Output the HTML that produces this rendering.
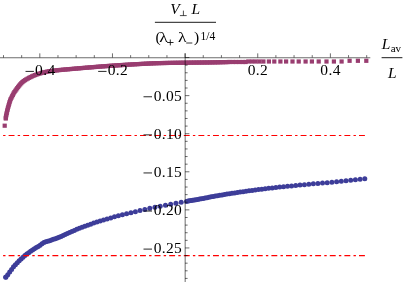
<!DOCTYPE html>
<html><head><meta charset="utf-8"><title>plot</title>
<style>html,body{margin:0;padding:0;background:#fff;}svg{display:block;}text{font-family:"Liberation Serif",serif;fill:#000;}.i{font-style:italic;}</style></head><body>
<svg width="405" height="282" viewBox="0 0 405 282">
<rect x="0" y="0" width="405" height="282" fill="#fff"/>
<g fill="#993d70">
<rect x="2.60" y="123.60" width="4.2" height="4.2"/>
<rect x="3.70" y="116.40" width="4.2" height="4.2"/>
<rect x="3.69" y="115.57" width="4.2" height="4.2"/>
<rect x="3.97" y="114.00" width="4.2" height="4.2"/>
<rect x="4.29" y="112.43" width="4.2" height="4.2"/>
<rect x="4.62" y="110.86" width="4.2" height="4.2"/>
<rect x="4.98" y="109.30" width="4.2" height="4.2"/>
<rect x="5.35" y="107.75" width="4.2" height="4.2"/>
<rect x="5.76" y="106.20" width="4.2" height="4.2"/>
<rect x="6.18" y="104.66" width="4.2" height="4.2"/>
<rect x="6.62" y="103.12" width="4.2" height="4.2"/>
<rect x="7.06" y="101.58" width="4.2" height="4.2"/>
<rect x="7.50" y="100.03" width="4.2" height="4.2"/>
<rect x="7.98" y="98.51" width="4.2" height="4.2"/>
<rect x="8.57" y="97.04" width="4.2" height="4.2"/>
<rect x="9.30" y="95.61" width="4.2" height="4.2"/>
<rect x="10.05" y="94.19" width="4.2" height="4.2"/>
<rect x="10.76" y="92.75" width="4.2" height="4.2"/>
<rect x="11.49" y="91.32" width="4.2" height="4.2"/>
<rect x="12.31" y="89.96" width="4.2" height="4.2"/>
<rect x="13.24" y="88.66" width="4.2" height="4.2"/>
<rect x="14.19" y="87.37" width="4.2" height="4.2"/>
<rect x="15.12" y="86.06" width="4.2" height="4.2"/>
<rect x="16.06" y="84.76" width="4.2" height="4.2"/>
<rect x="17.05" y="83.52" width="4.2" height="4.2"/>
<rect x="18.10" y="82.29" width="4.2" height="4.2"/>
<rect x="19.19" y="81.10" width="4.2" height="4.2"/>
<rect x="20.33" y="79.98" width="4.2" height="4.2"/>
<rect x="21.55" y="78.99" width="4.2" height="4.2"/>
<rect x="22.87" y="78.09" width="4.2" height="4.2"/>
<rect x="24.25" y="77.25" width="4.2" height="4.2"/>
<rect x="25.65" y="76.45" width="4.2" height="4.2"/>
<rect x="27.06" y="75.70" width="4.2" height="4.2"/>
<rect x="28.48" y="74.96" width="4.2" height="4.2"/>
<rect x="29.93" y="74.27" width="4.2" height="4.2"/>
<rect x="31.39" y="73.61" width="4.2" height="4.2"/>
<rect x="32.87" y="73.00" width="4.2" height="4.2"/>
<rect x="34.36" y="72.45" width="4.2" height="4.2"/>
<rect x="35.88" y="71.93" width="4.2" height="4.2"/>
<rect x="37.41" y="71.45" width="4.2" height="4.2"/>
<rect x="38.95" y="71.01" width="4.2" height="4.2"/>
<rect x="40.50" y="70.60" width="4.2" height="4.2"/>
<rect x="42.05" y="70.22" width="4.2" height="4.2"/>
<rect x="43.61" y="69.86" width="4.2" height="4.2"/>
<rect x="45.18" y="69.53" width="4.2" height="4.2"/>
<rect x="46.75" y="69.24" width="4.2" height="4.2"/>
<rect x="48.33" y="68.99" width="4.2" height="4.2"/>
<rect x="49.91" y="68.77" width="4.2" height="4.2"/>
<rect x="51.50" y="68.58" width="4.2" height="4.2"/>
<rect x="53.09" y="68.40" width="4.2" height="4.2"/>
<rect x="54.69" y="68.23" width="4.2" height="4.2"/>
<rect x="56.28" y="68.06" width="4.2" height="4.2"/>
<rect x="57.87" y="67.90" width="4.2" height="4.2"/>
<rect x="59.46" y="67.75" width="4.2" height="4.2"/>
<rect x="61.06" y="67.60" width="4.2" height="4.2"/>
<rect x="62.65" y="67.45" width="4.2" height="4.2"/>
<rect x="64.24" y="67.32" width="4.2" height="4.2"/>
<rect x="65.84" y="67.18" width="4.2" height="4.2"/>
<rect x="67.43" y="67.04" width="4.2" height="4.2"/>
<rect x="69.03" y="66.90" width="4.2" height="4.2"/>
<rect x="70.62" y="66.76" width="4.2" height="4.2"/>
<rect x="72.21" y="66.62" width="4.2" height="4.2"/>
<rect x="73.81" y="66.48" width="4.2" height="4.2"/>
<rect x="75.40" y="66.35" width="4.2" height="4.2"/>
<rect x="77.00" y="66.21" width="4.2" height="4.2"/>
<rect x="78.59" y="66.07" width="4.2" height="4.2"/>
<rect x="80.19" y="65.94" width="4.2" height="4.2"/>
<rect x="81.78" y="65.80" width="4.2" height="4.2"/>
<rect x="83.37" y="65.67" width="4.2" height="4.2"/>
<rect x="84.97" y="65.54" width="4.2" height="4.2"/>
<rect x="86.56" y="65.41" width="4.2" height="4.2"/>
<rect x="88.16" y="65.28" width="4.2" height="4.2"/>
<rect x="89.75" y="65.15" width="4.2" height="4.2"/>
<rect x="91.35" y="65.02" width="4.2" height="4.2"/>
<rect x="92.94" y="64.89" width="4.2" height="4.2"/>
<rect x="94.54" y="64.76" width="4.2" height="4.2"/>
<rect x="96.13" y="64.63" width="4.2" height="4.2"/>
<rect x="97.73" y="64.51" width="4.2" height="4.2"/>
<rect x="99.32" y="64.38" width="4.2" height="4.2"/>
<rect x="100.92" y="64.26" width="4.2" height="4.2"/>
<rect x="102.51" y="64.14" width="4.2" height="4.2"/>
<rect x="104.11" y="64.02" width="4.2" height="4.2"/>
<rect x="105.70" y="63.90" width="4.2" height="4.2"/>
<rect x="107.30" y="63.78" width="4.2" height="4.2"/>
<rect x="108.90" y="63.67" width="4.2" height="4.2"/>
<rect x="110.49" y="63.56" width="4.2" height="4.2"/>
<rect x="112.09" y="63.45" width="4.2" height="4.2"/>
<rect x="113.68" y="63.34" width="4.2" height="4.2"/>
<rect x="115.28" y="63.24" width="4.2" height="4.2"/>
<rect x="116.88" y="63.13" width="4.2" height="4.2"/>
<rect x="118.47" y="63.03" width="4.2" height="4.2"/>
<rect x="120.07" y="62.93" width="4.2" height="4.2"/>
<rect x="121.67" y="62.83" width="4.2" height="4.2"/>
<rect x="123.26" y="62.73" width="4.2" height="4.2"/>
<rect x="124.86" y="62.63" width="4.2" height="4.2"/>
<rect x="126.46" y="62.54" width="4.2" height="4.2"/>
<rect x="128.06" y="62.44" width="4.2" height="4.2"/>
<rect x="129.65" y="62.35" width="4.2" height="4.2"/>
<rect x="131.25" y="62.26" width="4.2" height="4.2"/>
<rect x="132.85" y="62.17" width="4.2" height="4.2"/>
<rect x="134.45" y="62.08" width="4.2" height="4.2"/>
<rect x="136.04" y="62.00" width="4.2" height="4.2"/>
<rect x="137.64" y="61.91" width="4.2" height="4.2"/>
<rect x="139.24" y="61.83" width="4.2" height="4.2"/>
<rect x="140.84" y="61.75" width="4.2" height="4.2"/>
<rect x="142.44" y="61.66" width="4.2" height="4.2"/>
<rect x="144.03" y="61.58" width="4.2" height="4.2"/>
<rect x="145.63" y="61.50" width="4.2" height="4.2"/>
<rect x="147.23" y="61.41" width="4.2" height="4.2"/>
<rect x="148.83" y="61.34" width="4.2" height="4.2"/>
<rect x="150.43" y="61.26" width="4.2" height="4.2"/>
<rect x="152.03" y="61.20" width="4.2" height="4.2"/>
<rect x="153.62" y="61.13" width="4.2" height="4.2"/>
<rect x="155.22" y="61.08" width="4.2" height="4.2"/>
<rect x="156.82" y="61.03" width="4.2" height="4.2"/>
<rect x="158.42" y="60.99" width="4.2" height="4.2"/>
<rect x="160.02" y="60.95" width="4.2" height="4.2"/>
<rect x="161.62" y="60.92" width="4.2" height="4.2"/>
<rect x="163.22" y="60.89" width="4.2" height="4.2"/>
<rect x="164.82" y="60.86" width="4.2" height="4.2"/>
<rect x="166.42" y="60.83" width="4.2" height="4.2"/>
<rect x="168.02" y="60.80" width="4.2" height="4.2"/>
<rect x="169.62" y="60.78" width="4.2" height="4.2"/>
<rect x="171.22" y="60.75" width="4.2" height="4.2"/>
<rect x="172.82" y="60.73" width="4.2" height="4.2"/>
<rect x="174.42" y="60.71" width="4.2" height="4.2"/>
<rect x="176.02" y="60.69" width="4.2" height="4.2"/>
<rect x="177.62" y="60.67" width="4.2" height="4.2"/>
<rect x="179.22" y="60.65" width="4.2" height="4.2"/>
<rect x="180.82" y="60.63" width="4.2" height="4.2"/>
<rect x="182.42" y="60.61" width="4.2" height="4.2"/>
<rect x="184.02" y="60.59" width="4.2" height="4.2"/>
<rect x="185.62" y="60.57" width="4.2" height="4.2"/>
<rect x="187.22" y="60.55" width="4.2" height="4.2"/>
<rect x="188.82" y="60.53" width="4.2" height="4.2"/>
<rect x="190.42" y="60.51" width="4.2" height="4.2"/>
<rect x="192.02" y="60.50" width="4.2" height="4.2"/>
<rect x="193.62" y="60.48" width="4.2" height="4.2"/>
<rect x="195.22" y="60.47" width="4.2" height="4.2"/>
<rect x="196.82" y="60.45" width="4.2" height="4.2"/>
<rect x="198.42" y="60.44" width="4.2" height="4.2"/>
<rect x="200.02" y="60.42" width="4.2" height="4.2"/>
<rect x="201.62" y="60.40" width="4.2" height="4.2"/>
<rect x="203.22" y="60.39" width="4.2" height="4.2"/>
<rect x="204.82" y="60.37" width="4.2" height="4.2"/>
<rect x="206.42" y="60.35" width="4.2" height="4.2"/>
<rect x="208.02" y="60.33" width="4.2" height="4.2"/>
<rect x="209.62" y="60.30" width="4.2" height="4.2"/>
<rect x="211.22" y="60.28" width="4.2" height="4.2"/>
<rect x="212.82" y="60.25" width="4.2" height="4.2"/>
<rect x="214.42" y="60.22" width="4.2" height="4.2"/>
<rect x="216.02" y="60.19" width="4.2" height="4.2"/>
<rect x="217.61" y="60.15" width="4.2" height="4.2"/>
<rect x="219.21" y="60.11" width="4.2" height="4.2"/>
<rect x="220.81" y="60.08" width="4.2" height="4.2"/>
<rect x="222.41" y="60.04" width="4.2" height="4.2"/>
<rect x="224.01" y="60.00" width="4.2" height="4.2"/>
<rect x="225.61" y="59.96" width="4.2" height="4.2"/>
<rect x="227.30" y="59.90" width="4.2" height="4.2"/>
<rect x="230.70" y="59.90" width="4.2" height="4.2"/>
<rect x="233.90" y="59.90" width="4.2" height="4.2"/>
<rect x="237.30" y="59.90" width="4.2" height="4.2"/>
<rect x="240.80" y="59.90" width="4.2" height="4.2"/>
<rect x="243.50" y="59.90" width="4.2" height="4.2"/>
<rect x="246.20" y="59.40" width="4.2" height="4.2"/>
<rect x="249.90" y="59.40" width="4.2" height="4.2"/>
<rect x="253.60" y="59.40" width="4.2" height="4.2"/>
<rect x="257.40" y="59.40" width="4.2" height="4.2"/>
<rect x="261.30" y="59.40" width="4.2" height="4.2"/>
<rect x="266.80" y="59.40" width="4.2" height="4.2"/>
<rect x="272.20" y="59.40" width="4.2" height="4.2"/>
<rect x="278.30" y="59.40" width="4.2" height="4.2"/>
<rect x="284.00" y="59.40" width="4.2" height="4.2"/>
<rect x="290.40" y="59.40" width="4.2" height="4.2"/>
<rect x="296.60" y="59.40" width="4.2" height="4.2"/>
<rect x="303.50" y="59.40" width="4.2" height="4.2"/>
<rect x="309.80" y="59.40" width="4.2" height="4.2"/>
<rect x="316.60" y="59.40" width="4.2" height="4.2"/>
<rect x="324.40" y="59.40" width="4.2" height="4.2"/>
<rect x="331.80" y="59.40" width="4.2" height="4.2"/>
<rect x="339.50" y="59.40" width="4.2" height="4.2"/>
<rect x="347.50" y="58.70" width="4.2" height="4.2"/>
<rect x="355.80" y="58.70" width="4.2" height="4.2"/>
<rect x="364.20" y="58.70" width="4.2" height="4.2"/>
</g>
<g fill="#3d3d99">
<circle cx="5.70" cy="277.30" r="2.50"/>
<circle cx="5.90" cy="277.06" r="2.50"/>
<circle cx="7.80" cy="274.65" r="2.50"/>
<circle cx="9.70" cy="272.11" r="2.50"/>
<circle cx="11.60" cy="269.38" r="2.50"/>
<circle cx="13.50" cy="266.86" r="2.50"/>
<circle cx="15.40" cy="264.68" r="2.50"/>
<circle cx="17.30" cy="262.67" r="2.50"/>
<circle cx="19.20" cy="260.74" r="2.50"/>
<circle cx="21.10" cy="258.91" r="2.50"/>
<circle cx="23.00" cy="257.19" r="2.50"/>
<circle cx="24.90" cy="255.56" r="2.50"/>
<circle cx="26.80" cy="254.05" r="2.50"/>
<circle cx="28.70" cy="252.67" r="2.50"/>
<circle cx="30.60" cy="251.35" r="2.50"/>
<circle cx="32.50" cy="250.02" r="2.50"/>
<circle cx="34.40" cy="248.72" r="2.50"/>
<circle cx="36.30" cy="247.52" r="2.50"/>
<circle cx="38.20" cy="246.46" r="2.50"/>
<circle cx="40.10" cy="245.26" r="2.50"/>
<circle cx="42.00" cy="243.63" r="2.50"/>
<circle cx="43.90" cy="242.52" r="2.50"/>
<circle cx="45.80" cy="241.80" r="2.50"/>
<circle cx="47.70" cy="241.24" r="2.50"/>
<circle cx="49.60" cy="240.64" r="2.50"/>
<circle cx="51.50" cy="240.02" r="2.50"/>
<circle cx="53.40" cy="239.37" r="2.50"/>
<circle cx="55.30" cy="238.69" r="2.50"/>
<circle cx="57.20" cy="238.00" r="2.50"/>
<circle cx="59.10" cy="237.26" r="2.50"/>
<circle cx="61.05" cy="236.46" r="2.50"/>
<circle cx="63.07" cy="235.54" r="2.50"/>
<circle cx="65.17" cy="234.55" r="2.50"/>
<circle cx="67.33" cy="233.52" r="2.50"/>
<circle cx="69.58" cy="232.50" r="2.50"/>
<circle cx="71.90" cy="231.47" r="2.50"/>
<circle cx="74.30" cy="230.42" r="2.50"/>
<circle cx="76.79" cy="229.37" r="2.50"/>
<circle cx="79.37" cy="228.33" r="2.50"/>
<circle cx="82.04" cy="227.30" r="2.50"/>
<circle cx="84.80" cy="226.26" r="2.50"/>
<circle cx="87.66" cy="225.21" r="2.50"/>
<circle cx="90.61" cy="224.15" r="2.50"/>
<circle cx="93.68" cy="223.08" r="2.50"/>
<circle cx="96.85" cy="222.02" r="2.50"/>
<circle cx="100.13" cy="220.97" r="2.50"/>
<circle cx="103.53" cy="219.93" r="2.50"/>
<circle cx="107.05" cy="218.90" r="2.50"/>
<circle cx="110.69" cy="217.88" r="2.50"/>
<circle cx="114.46" cy="216.86" r="2.50"/>
<circle cx="118.36" cy="215.83" r="2.50"/>
<circle cx="122.40" cy="214.80" r="2.50"/>
<circle cx="126.58" cy="213.80" r="2.50"/>
<circle cx="130.91" cy="212.75" r="2.50"/>
<circle cx="135.39" cy="211.64" r="2.50"/>
<circle cx="140.03" cy="210.52" r="2.50"/>
<circle cx="144.83" cy="209.43" r="2.50"/>
<circle cx="149.80" cy="208.37" r="2.50"/>
<circle cx="154.95" cy="207.30" r="2.50"/>
<circle cx="160.20" cy="206.24" r="2.50"/>
<circle cx="165.45" cy="205.23" r="2.50"/>
<circle cx="170.70" cy="204.23" r="2.50"/>
<circle cx="175.95" cy="203.22" r="2.50"/>
<circle cx="181.20" cy="202.28" r="2.50"/>
<circle cx="186.55" cy="201.38" r="2.50"/>
<circle cx="188.05" cy="201.12" r="2.50"/>
<circle cx="189.56" cy="200.87" r="2.50"/>
<circle cx="191.11" cy="200.61" r="2.50"/>
<circle cx="192.71" cy="200.34" r="2.50"/>
<circle cx="194.34" cy="200.06" r="2.50"/>
<circle cx="196.02" cy="199.76" r="2.50"/>
<circle cx="197.73" cy="199.44" r="2.50"/>
<circle cx="199.50" cy="199.11" r="2.50"/>
<circle cx="201.30" cy="198.76" r="2.50"/>
<circle cx="203.16" cy="198.40" r="2.50"/>
<circle cx="205.06" cy="198.03" r="2.50"/>
<circle cx="207.01" cy="197.64" r="2.50"/>
<circle cx="209.01" cy="197.25" r="2.50"/>
<circle cx="211.06" cy="196.85" r="2.50"/>
<circle cx="213.17" cy="196.45" r="2.50"/>
<circle cx="215.32" cy="196.05" r="2.50"/>
<circle cx="217.54" cy="195.66" r="2.50"/>
<circle cx="219.81" cy="195.27" r="2.50"/>
<circle cx="222.14" cy="194.88" r="2.50"/>
<circle cx="224.52" cy="194.48" r="2.50"/>
<circle cx="226.97" cy="194.09" r="2.50"/>
<circle cx="229.49" cy="193.69" r="2.50"/>
<circle cx="232.06" cy="193.29" r="2.50"/>
<circle cx="234.70" cy="192.89" r="2.50"/>
<circle cx="237.42" cy="192.48" r="2.50"/>
<circle cx="240.20" cy="192.07" r="2.50"/>
<circle cx="243.05" cy="191.67" r="2.50"/>
<circle cx="245.97" cy="191.26" r="2.50"/>
<circle cx="248.97" cy="190.84" r="2.50"/>
<circle cx="252.05" cy="190.43" r="2.50"/>
<circle cx="255.20" cy="190.02" r="2.50"/>
<circle cx="258.44" cy="189.61" r="2.50"/>
<circle cx="261.76" cy="189.19" r="2.50"/>
<circle cx="265.16" cy="188.77" r="2.50"/>
<circle cx="268.65" cy="188.36" r="2.50"/>
<circle cx="272.23" cy="187.94" r="2.50"/>
<circle cx="275.90" cy="187.53" r="2.50"/>
<circle cx="279.67" cy="187.12" r="2.50"/>
<circle cx="283.53" cy="186.71" r="2.50"/>
<circle cx="287.50" cy="186.30" r="2.50"/>
<circle cx="291.56" cy="185.90" r="2.50"/>
<circle cx="295.73" cy="185.50" r="2.50"/>
<circle cx="300.00" cy="185.10" r="2.50"/>
<circle cx="304.39" cy="184.68" r="2.50"/>
<circle cx="308.84" cy="184.27" r="2.50"/>
<circle cx="313.34" cy="183.86" r="2.50"/>
<circle cx="317.89" cy="183.45" r="2.50"/>
<circle cx="322.50" cy="183.05" r="2.50"/>
<circle cx="327.20" cy="182.64" r="2.50"/>
<circle cx="331.90" cy="182.22" r="2.50"/>
<circle cx="336.60" cy="181.77" r="2.50"/>
<circle cx="341.30" cy="181.31" r="2.50"/>
<circle cx="346.00" cy="180.83" r="2.50"/>
<circle cx="350.70" cy="180.34" r="2.50"/>
<circle cx="355.40" cy="179.84" r="2.50"/>
<circle cx="360.10" cy="179.33" r="2.50"/>
<circle cx="364.80" cy="178.80" r="2.50"/>
</g>
<line x1="3.1" y1="135.50" x2="365" y2="135.50" stroke="#ff0000" stroke-width="1.15" stroke-dasharray="2.4 3.1 5.9 3.2"/>
<line x1="3.1" y1="255.65" x2="365" y2="255.65" stroke="#ff0000" stroke-width="1.15" stroke-dasharray="2.4 3.1 5.9 3.2"/>
<g stroke="#000" stroke-width="0.58" fill="none">
<line x1="0" y1="57.75" x2="370.3" y2="57.75"/>
<line x1="185.17" y1="53.3" x2="185.17" y2="282"/>
<line x1="3.50" y1="57.55" x2="3.50" y2="55.15"/>
<line x1="21.66" y1="57.55" x2="21.66" y2="55.15"/>
<line x1="39.82" y1="57.55" x2="39.82" y2="53.35"/>
<line x1="57.98" y1="57.55" x2="57.98" y2="55.15"/>
<line x1="76.14" y1="57.55" x2="76.14" y2="55.15"/>
<line x1="94.30" y1="57.55" x2="94.30" y2="55.15"/>
<line x1="112.46" y1="57.55" x2="112.46" y2="53.35"/>
<line x1="130.62" y1="57.55" x2="130.62" y2="55.15"/>
<line x1="148.78" y1="57.55" x2="148.78" y2="55.15"/>
<line x1="166.94" y1="57.55" x2="166.94" y2="55.15"/>
<line x1="185.10" y1="57.55" x2="185.10" y2="53.35"/>
<line x1="203.26" y1="57.55" x2="203.26" y2="55.15"/>
<line x1="221.42" y1="57.55" x2="221.42" y2="55.15"/>
<line x1="239.58" y1="57.55" x2="239.58" y2="55.15"/>
<line x1="257.74" y1="57.55" x2="257.74" y2="53.35"/>
<line x1="275.90" y1="57.55" x2="275.90" y2="55.15"/>
<line x1="294.06" y1="57.55" x2="294.06" y2="55.15"/>
<line x1="312.22" y1="57.55" x2="312.22" y2="55.15"/>
<line x1="330.38" y1="57.55" x2="330.38" y2="53.35"/>
<line x1="348.54" y1="57.55" x2="348.54" y2="55.15"/>
<line x1="366.70" y1="57.55" x2="366.70" y2="55.15"/>
<line x1="185.10" y1="57.55" x2="189.40" y2="57.55"/>
<line x1="185.10" y1="65.17" x2="187.60" y2="65.17"/>
<line x1="185.10" y1="72.78" x2="187.60" y2="72.78"/>
<line x1="185.10" y1="80.40" x2="187.60" y2="80.40"/>
<line x1="185.10" y1="88.01" x2="187.60" y2="88.01"/>
<line x1="185.10" y1="95.63" x2="189.40" y2="95.63"/>
<line x1="185.10" y1="103.25" x2="187.60" y2="103.25"/>
<line x1="185.10" y1="110.86" x2="187.60" y2="110.86"/>
<line x1="185.10" y1="118.48" x2="187.60" y2="118.48"/>
<line x1="185.10" y1="126.09" x2="187.60" y2="126.09"/>
<line x1="185.10" y1="133.71" x2="189.40" y2="133.71"/>
<line x1="185.10" y1="141.33" x2="187.60" y2="141.33"/>
<line x1="185.10" y1="148.94" x2="187.60" y2="148.94"/>
<line x1="185.10" y1="156.56" x2="187.60" y2="156.56"/>
<line x1="185.10" y1="164.17" x2="187.60" y2="164.17"/>
<line x1="185.10" y1="171.79" x2="189.40" y2="171.79"/>
<line x1="185.10" y1="179.41" x2="187.60" y2="179.41"/>
<line x1="185.10" y1="187.02" x2="187.60" y2="187.02"/>
<line x1="185.10" y1="194.64" x2="187.60" y2="194.64"/>
<line x1="185.10" y1="202.25" x2="187.60" y2="202.25"/>
<line x1="185.10" y1="209.87" x2="189.40" y2="209.87"/>
<line x1="185.10" y1="217.49" x2="187.60" y2="217.49"/>
<line x1="185.10" y1="225.10" x2="187.60" y2="225.10"/>
<line x1="185.10" y1="232.72" x2="187.60" y2="232.72"/>
<line x1="185.10" y1="240.33" x2="187.60" y2="240.33"/>
<line x1="185.10" y1="247.95" x2="189.40" y2="247.95"/>
<line x1="185.10" y1="255.57" x2="187.60" y2="255.57"/>
<line x1="185.10" y1="263.18" x2="187.60" y2="263.18"/>
<line x1="185.10" y1="270.80" x2="187.60" y2="270.80"/>
<line x1="185.10" y1="278.41" x2="187.60" y2="278.41"/>
</g>
<g style="filter:grayscale(1)">
<text x="55.52" y="75.35" font-size="15.50" text-anchor="end" letter-spacing="0.35">0.4</text>
<line x1="25.52" y1="71.40" x2="33.92" y2="71.40" stroke="#000" stroke-width="0.85"/>
<text x="128.16" y="75.35" font-size="15.50" text-anchor="end" letter-spacing="0.35">0.2</text>
<line x1="98.16" y1="71.40" x2="106.56" y2="71.40" stroke="#000" stroke-width="0.85"/>
<text x="257.94" y="75.35" font-size="15.50" text-anchor="middle" letter-spacing="0.35">0.2</text>
<text x="330.58" y="75.35" font-size="15.50" text-anchor="middle" letter-spacing="0.35">0.4</text>
<text x="182.20" y="100.73" font-size="15.50" text-anchor="end" letter-spacing="0.35">0.05</text>
<line x1="143.50" y1="96.78" x2="152.00" y2="96.78" stroke="#000" stroke-width="0.85"/>
<text x="182.20" y="138.81" font-size="15.50" text-anchor="end" letter-spacing="0.35">0.10</text>
<line x1="143.50" y1="134.86" x2="152.00" y2="134.86" stroke="#000" stroke-width="0.85"/>
<text x="182.20" y="176.89" font-size="15.50" text-anchor="end" letter-spacing="0.35">0.15</text>
<line x1="143.50" y1="172.94" x2="152.00" y2="172.94" stroke="#000" stroke-width="0.85"/>
<text x="182.20" y="214.97" font-size="15.50" text-anchor="end" letter-spacing="0.35">0.20</text>
<line x1="143.50" y1="211.02" x2="152.00" y2="211.02" stroke="#000" stroke-width="0.85"/>
<text x="182.20" y="253.05" font-size="15.50" text-anchor="end" letter-spacing="0.35">0.25</text>
<line x1="143.50" y1="249.10" x2="152.00" y2="249.10" stroke="#000" stroke-width="0.85"/>
<text class="i" x="170.3" y="13.9" font-size="15.50">V</text>
<g stroke="#000" stroke-width="0.7" fill="none"><line x1="179.9" y1="15.6" x2="186.7" y2="15.6"/><line x1="183.4" y1="10.6" x2="183.4" y2="15.6"/></g>
<text class="i" x="191.4" y="13.9" font-size="15.50">L</text>
<line x1="154.9" y1="22.3" x2="216" y2="22.3" stroke="#000" stroke-width="0.9"/>
<text x="155.6" y="42.3" font-size="15.50">(</text>
<text transform="translate(159.2 42.2) scale(1.28 1)" x="0" y="0" font-size="13.8">λ</text>
<g stroke="#000" stroke-width="0.85"><line x1="167.1" y1="42.5" x2="173.5" y2="42.5"/><line x1="170.3" y1="39.5" x2="170.3" y2="45.4"/></g>
<text transform="translate(178.1 42.2) scale(1.28 1)" x="0" y="0" font-size="13.8">λ</text>
<line x1="186.2" y1="43" x2="192.3" y2="43" stroke="#000" stroke-width="0.8"/>
<text x="194.1" y="42.3" font-size="15.50">)</text>
<text x="200.5" y="39.5" font-size="11.60">1/4</text>
<text class="i" x="381.8" y="49.2" font-size="15.50">L</text>
<text x="390.7" y="51.5" font-size="11.00">av</text>
<line x1="381.6" y1="57.7" x2="402.4" y2="57.7" stroke="#000" stroke-width="0.9"/>
<text class="i" x="388.0" y="77.5" font-size="15.50">L</text>
</g>
</svg></body></html>
